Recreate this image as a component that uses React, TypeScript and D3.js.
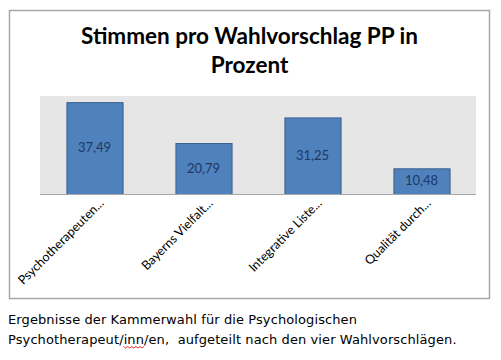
import React, { useLayoutEffect, useRef, useState } from "react";
import * as d3 from "d3";

const categories = ["Psychotherapeuten...", "Bayerns Vielfalt...", "Integrative Liste...", "Qualität durch..."];
const values = [37.49, 20.79, 31.25, 10.48];
const valueLabels = ["37,49", "20,79", "31,25", "10,48"];
const titleLines = ["Stimmen pro Wahlvorschlag PP in", "Prozent"];
const captionLines = [
  "Ergebnisse der Kammerwahl für die Psychologischen",
  "Psychotherapeut/inn/en,  aufgeteilt nach den vier Wahlvorschlägen.",
];
const misspelled = "inn";

const W = 501;
const H = 360;

export default function App() {
  const plot = { left: 40, right: 476, top: 96, bottom: 194 };
  const x = d3
    .scaleBand<string>()
    .domain(categories)
    .range([plot.left, plot.right])
    .paddingInner(0.485)
    .paddingOuter(0.2425);
  const y = d3.scaleLinear().domain([0, 40]).range([plot.bottom, plot.top]);
  const font = "Lato, 'Open Sans', sans-serif";

  const capRef = useRef<SVGTextElement | null>(null);
  const [waveX, setWaveX] = useState<[number, number]>([124, 144]);
  useLayoutEffect(() => {
    const el = capRef.current;
    if (!el) return;
    const idx = captionLines[1].indexOf(misspelled);
    try {
      const s = el.getStartPositionOfChar(idx).x;
      const e = el.getEndPositionOfChar(idx + misspelled.length - 1).x;
      setWaveX([s, e]);
    } catch (err) {
      /* ignore */
    }
  }, []);

  const wave: [number, number][] = [];
  const n = Math.max(2, Math.round((waveX[1] - waveX[0]) / 2));
  for (let i = 0; i <= n; i++)
    wave.push([waveX[0] + ((waveX[1] - waveX[0]) * i) / n, 346.5 + (i % 2 === 0 ? 0 : 1.5)]);
  const waveLine = d3.line()(wave) || "";

  return (
    <svg
      width={W}
      height={H}
      style={{ position: "fixed", left: 0, top: 0, background: "#fff" }}
    >
      <rect x={9.5} y={10.5} width={480} height={288} fill="#fff" stroke="#a6a6a6" strokeWidth={1.5} />
      {titleLines.map((t, i) => (
        <text
          key={i}
          x={249.5}
          y={44 + i * 29}
          textAnchor="middle"
          fontFamily={font}
          fontWeight="bold"
          fontSize={22.5}
          fill="#000"
        >
          {t}
        </text>
      ))}
      <rect
        x={plot.left}
        y={plot.top}
        width={plot.right - plot.left}
        height={plot.bottom - plot.top}
        fill="#e6e6e6"
      />
      {categories.map((c, i) => {
        const bx = x(c) || 0;
        const by = y(values[i]);
        const bh = y(0) - by;
        return (
          <g key={c}>
            <rect
              x={bx + 0.5}
              y={by + 0.5}
              width={x.bandwidth()}
              height={bh}
              fill="#4f81bd"
              stroke="#385d8a"
              strokeWidth={1}
            />
            <text
              x={bx + x.bandwidth() / 2}
              y={by + bh / 2 + 4}
              textAnchor="middle"
              fontFamily={font}
              fontSize={13}
              fill="#1f3864"
            >
              {valueLabels[i]}
            </text>
            <text
              transform={`translate(${bx + x.bandwidth() / 2 + 10},${plot.bottom + 10}) rotate(-45)`}
              textAnchor="end"
              fontFamily={font}
              fontSize={12.5}
              fill="#000"
            >
              {c}
            </text>
          </g>
        );
      })}
      <line x1={plot.left} x2={plot.right} y1={plot.bottom + 0.5} y2={plot.bottom + 0.5} stroke="#a6a6a6" strokeWidth={1} />
      {captionLines.map((t, i) => (
        <text
          key={i}
          ref={i === 1 ? capRef : undefined}
          x={8}
          y={324 + i * 20}
          fontFamily="'DejaVu Sans', sans-serif"
          fontSize={13}
          letterSpacing={0.1}
          fill="#000"
          style={{ whiteSpace: "pre" }}
        >
          {t}
        </text>
      ))}
      <path d={waveLine} fill="none" stroke="#e00000" strokeWidth={0.8} />
    </svg>
  );
}
